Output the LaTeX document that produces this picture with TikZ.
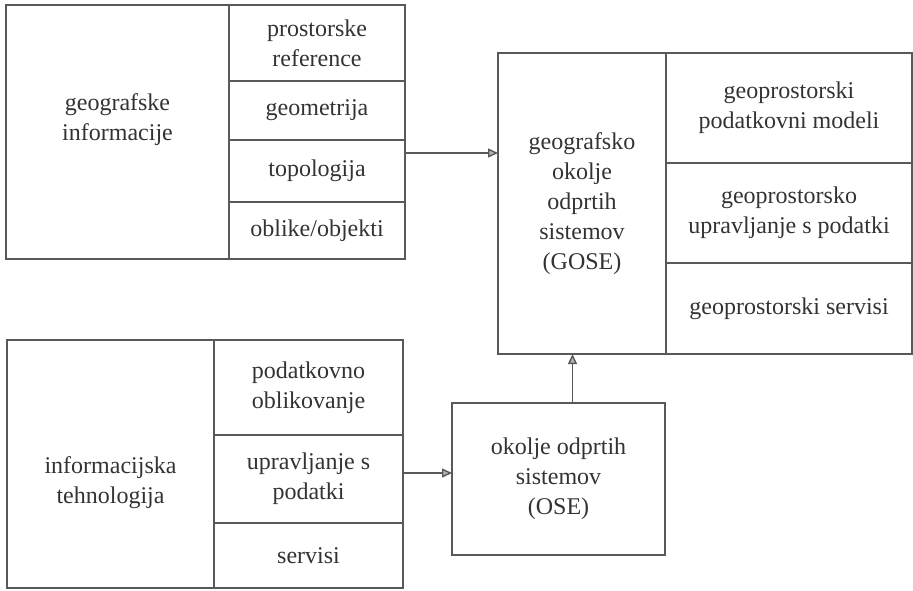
\documentclass[tikz,border=0pt]{standalone}
\usepackage{fontspec}
\setmainfont{Liberation Serif}
\usetikzlibrary{arrows.meta,positioning,calc}

\begin{document}
\begin{tikzpicture}[node distance=0pt,>={Triangle[length=5pt,width=4.5pt,fill=black!30]}]
  \tikzstyle{box}=[draw=black!65,line width=0.7pt,outer sep=0pt,inner sep=2pt,align=center,text=black!80,font=\fontsize{12}{15}\selectfont]
  \tikzstyle{main}=[box,anchor=north west]
  \useasboundingbox (0,0) rectangle (456.5pt,-295pt);
  % geografske informacije
  \node[main,minimum width=111.5pt,minimum height=127pt] (geoinf) at (3pt,-2.5pt) {\raisebox{6.5pt}[\height][\depth]{\begin{tabular}{@{}c@{}}geografske\\informacije\end{tabular}}};
  \node[box,minimum width=88pt,minimum height=38pt,below right=0pt and 0pt of geoinf.north east] (prref) {prostorske\\reference};
  \node[box,minimum width=88pt,minimum height=29.5pt,below=of prref] (geom) {geometrija};
  \node[box,minimum width=88pt,minimum height=31pt,below=of geom] (topo) {topologija};
  \node[box,minimum width=88pt,minimum height=28.5pt,below=of topo] (oblik) {oblike/objekti};
  % informacijska tehnologija
  \node[main,minimum width=103.5pt,minimum height=124pt] (inftech) at (3.5pt,-170pt) {\raisebox{-9pt}[\height][\depth]{\begin{tabular}{@{}c@{}}informacijska\\tehnologija\end{tabular}}};
  \node[box,minimum width=94.5pt,minimum height=47.5pt,below right=0pt and 0pt of inftech.north east] (podobl) {podatkovno\\oblikovanje};
  \node[box,minimum width=94.5pt,minimum height=44pt,below=of podobl] (uprav) {upravljanje s\\podatki};
  \node[box,minimum width=94.5pt,minimum height=32.5pt,below=of uprav] (serv) {servisi};
  % GOSE
  \node[main,minimum width=84pt,minimum height=150.5pt] (gose) at (249pt,-26.5pt) {geografsko\\okolje\\odprtih\\sistemov\\(GOSE)};
  \node[box,minimum width=123pt,minimum height=55pt,below right=0pt and 0pt of gose.north east] (gpmod) {geoprostorski\\podatkovni modeli};
  \node[box,minimum width=123pt,minimum height=50pt,below=of gpmod] (gpuprav) {geoprostorsko\\upravljanje s podatki};
  \node[box,minimum width=123pt,minimum height=45.5pt,below=of gpuprav] (gpserv) {geoprostorski servisi};
  % OSE
  \node[main,minimum width=106.5pt,minimum height=76pt] (ose) at (226pt,-201.5pt) {okolje odprtih\\sistemov\\(OSE)};
  \draw[->,draw=black!65,line width=0.7pt] ([yshift=9pt]topo.east) -- ([yshift=9pt]topo.east -| gose.west);
  \draw[->,draw=black!65,line width=0.7pt] ([yshift=3pt]uprav.east) -- ([yshift=3pt]uprav.east -| ose.west);
  \draw[->,draw=black!65,line width=0.7pt] ([xshift=7pt]ose.north) -- ([xshift=7pt]ose.north |- gose.south);
\end{tikzpicture}
\end{document}
